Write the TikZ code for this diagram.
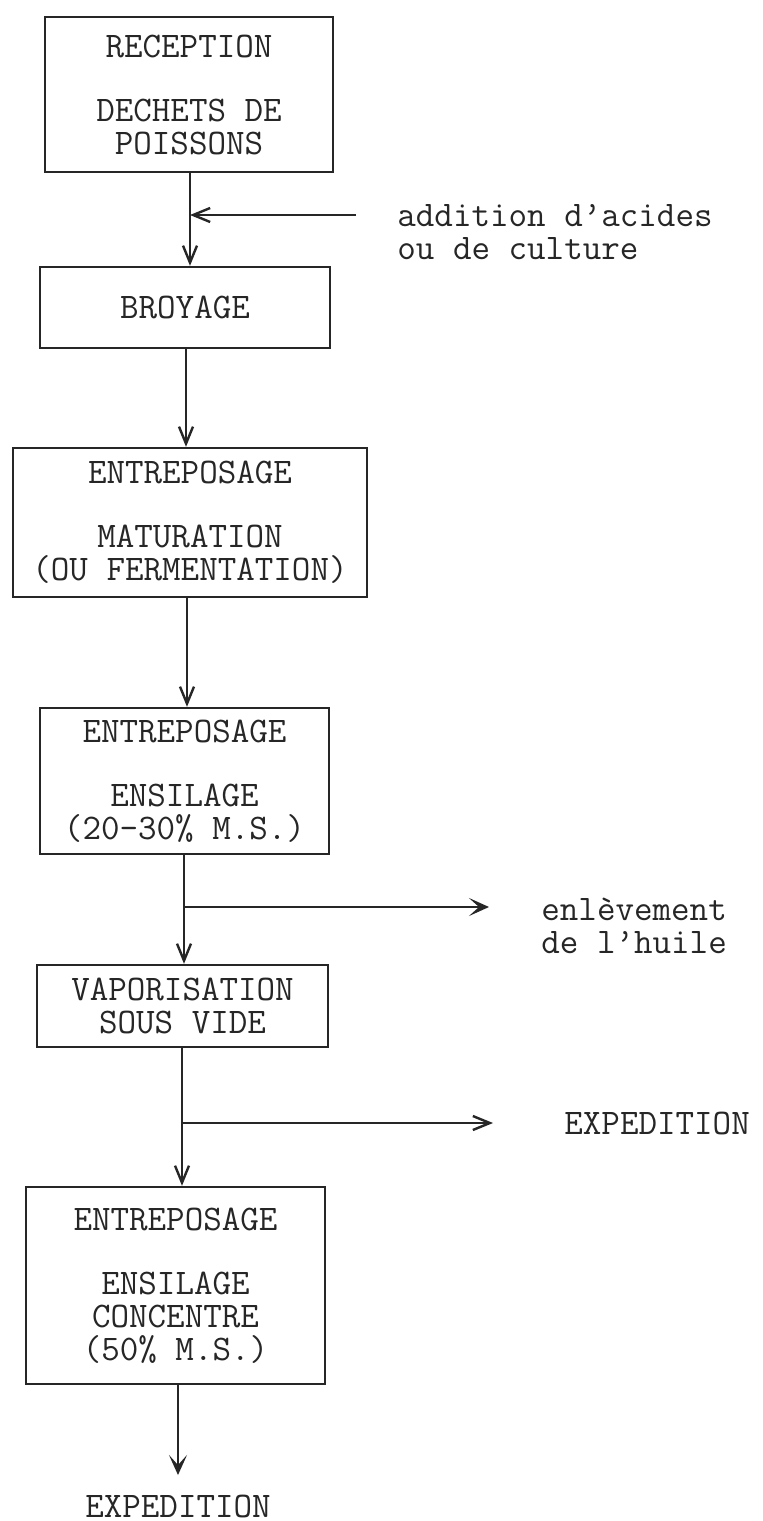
\documentclass[tikz,border=0pt]{standalone}
\usepackage{fontspec}
\usetikzlibrary{arrows.meta}
\begin{document}
\begin{tikzpicture}[x=0.5pt,y=-0.5pt,
  txtfont/.style={font=\ttfamily\addfontfeature{FakeBold=0.8}\fontsize{18}{16.5}\selectfont},
  box/.style={draw=black!85, line width=1.2pt, align=center, inner sep=0pt, text=black!85, txtfont},
  lbl/.style={align=left, inner sep=0pt, text=black!85, txtfont},
  flow/.style={draw=black!85, line width=1.2pt, -{Straight Barb[length=8.5pt,width=7pt,line width=1.2pt]}},
  flowS/.style={draw=black!85, line width=1.3pt, -{Stealth[length=10pt,width=9pt,inset=5pt]}}]
\useasboundingbox (0,0) rectangle (763,1521);
\fill[white] (0,0) rectangle (763,1521);

\node[box, minimum width=144pt, minimum height=77.5pt] (b1) at (189,94.5)
  {RECEPTION\\[15.5pt]DECHETS DE\\POISSONS};
\node[box, minimum width=145pt, minimum height=40.5pt] (b2) at (185,307.5)
  {BROYAGE};
\node[box, minimum width=177pt, minimum height=74.5pt] (b3) at (190,522.5)
  {ENTREPOSAGE\\[15.5pt]MATURATION\\(OU FERMENTATION)};
\node[box, minimum width=144.5pt, minimum height=73pt] (b4) at (184.5,781)
  {ENTREPOSAGE\\[15.5pt]ENSILAGE\\(20-30\% M.S.)};
\node[box, minimum width=145.5pt, minimum height=41pt] (b5) at (182.5,1006)
  {VAPORISATION\\SOUS VIDE};
\node[box, minimum width=149.5pt, minimum height=98.5pt] (b6) at (175.5,1285.5)
  {ENTREPOSAGE\\[15.5pt]ENSILAGE\\CONCENTRE\\(50\% M.S.)};

\node[lbl, anchor=west] (add) at (397,232) {addition d’acides\\ou de culture};
\node[lbl, anchor=west] (oil) at (541,926) {enlèvement\\de l’huile};
\node[lbl, anchor=west] (exp1) at (564,1123) {EXPEDITION};
\node[lbl] (exp2) at (178,1506) {EXPEDITION};

\coordinate (j1) at (190,215);
\coordinate (in1) at (356,215);
\coordinate (c23) at (186,400);
\coordinate (c34) at (187,650);
\coordinate (j2) at (184,907);
\coordinate (o1) at (489,907);
\coordinate (j3) at (182,1123);
\coordinate (o2) at (493,1123);
\coordinate (tip) at (178,1475);

\draw[flow] (b1.south -| j1) -- (b2.north -| j1);
\draw[flow] (in1) -- (j1);
\draw[flow] (b2.south -| c23) -- (b3.north -| c23);
\draw[flow] (b3.south -| c34) -- (b4.north -| c34);
\draw[flow] (b4.south -| j2) -- (b5.north -| j2);
\draw[flowS] (j2) -- (o1);
\draw[flow] (b5.south -| j3) -- (b6.north -| j3);
\draw[flow] (j3) -- (o2);
\draw[flowS] (b6.south -| tip) -- (tip);
\end{tikzpicture}
\end{document}
